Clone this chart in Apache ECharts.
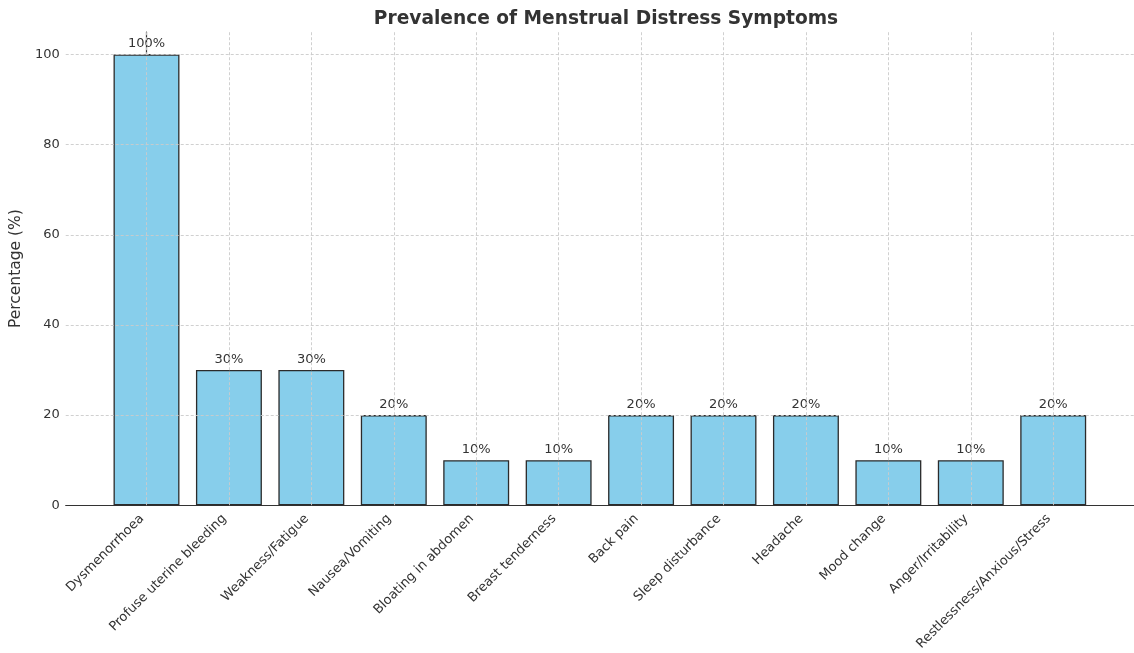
<!DOCTYPE html>
<html>
<head>
<meta charset="utf-8">
<script src="https://cdn.jsdelivr.net/npm/echarts@6/dist/echarts.min.js"></script>
<style>
  html, body { margin: 0; padding: 0; background: #fff; }
  #chart { width: 1134px; height: 653px; }
</style>
</head>
<body>
<div id="chart"></div>
<script>
// Symptom categories and share of respondents reporting each (%)
const categories = [
  'Dysmenorrhoea', 'Profuse uterine bleeding', 'Weakness/Fatigue', 'Nausea/Vomiting',
  'Bloating in abdomen', 'Breast tenderness', 'Back pain', 'Sleep disturbance',
  'Headache', 'Mood change', 'Anger/Irritability', 'Restlessness/Anxious/Stress'
];
const percentages = [100, 30, 30, 20, 10, 10, 20, 20, 20, 10, 10, 20];
const yTicks = [0, 20, 40, 60, 80, 100];

const FONT = 'DejaVu Sans';
const TEXT = '#333333';
const GRID_LINE = { color: '#cbcbcb', width: 0.9, type: [3, 2] };

// Categories sit at integer positions on a numeric x axis with side padding
const positions = categories.map((_, i) => i);
const barData = percentages.map((v, i) => [positions[i], v]);

// Dashed grid lines drawn over the bars (one per y tick and one per category)
const gridLines = [
  ...yTicks.filter(v => v > 0).map(v => ({ yAxis: v })),
  ...positions.map(p => ({ xAxis: p }))
];

const chart = echarts.init(document.getElementById('chart'), null, { renderer: 'canvas' });
chart.setOption({
  backgroundColor: '#ffffff',
  animation: false,
  title: {
    text: 'Prevalence of Menstrual Distress Symptoms',
    left: 601, top: 5, textAlign: 'center',
    textStyle: { fontFamily: FONT, fontSize: 18.6, fontWeight: 'bold', color: TEXT }
  },
  grid: { left: 65, right: -3.2, top: 32, bottom: 147, containLabel: false },
  xAxis: {
    type: 'value',
    min: -0.98, max: 11.98,
    axisLine: { show: true, onZero: false, lineStyle: { color: '#333', width: 1.2 } },
    axisTick: { show: true, inside: true, customValues: positions, length: 4, lineStyle: { color: '#333', width: 1 } },
    axisLabel: {
      customValues: positions,
      formatter: v => categories[v],
      rotate: 45, margin: 16,
      align: 'right', verticalAlign: 'bottom',
      fontFamily: FONT, fontSize: 13, color: TEXT
    },
    splitLine: { show: false }
  },
  yAxis: {
    type: 'value',
    min: 0, max: 105, interval: 20,
    name: 'Percentage (%)',
    nameLocation: 'middle', nameGap: 29,
    nameTextStyle: { fontFamily: FONT, fontSize: 15.5, color: TEXT },
    axisLine: { show: true, lineStyle: { color: '#333', width: 1.2 } },
    axisTick: { show: true, inside: true, length: 4, customValues: yTicks, lineStyle: { color: '#333', width: 1 } },
    axisLabel: { customValues: yTicks, margin: 6, fontFamily: FONT, fontSize: 13, color: TEXT },
    splitLine: { show: false }
  },
  series: [{
    type: 'bar',
    data: barData,
    barWidth: '80%',
    itemStyle: { color: '#87CEEB', borderColor: '#2b2b2b', borderWidth: 1.3 },
    label: {
      show: true, position: 'top', distance: 4,
      formatter: p => p.value[1] + '%',
      fontFamily: FONT, fontSize: 13, color: TEXT
    },
    markLine: {
      silent: true, symbol: 'none', z: 5,
      label: { show: false },
      lineStyle: GRID_LINE,
      emphasis: { disabled: true },
      data: gridLines
    }
  }]
});
</script>
</body>
</html>
